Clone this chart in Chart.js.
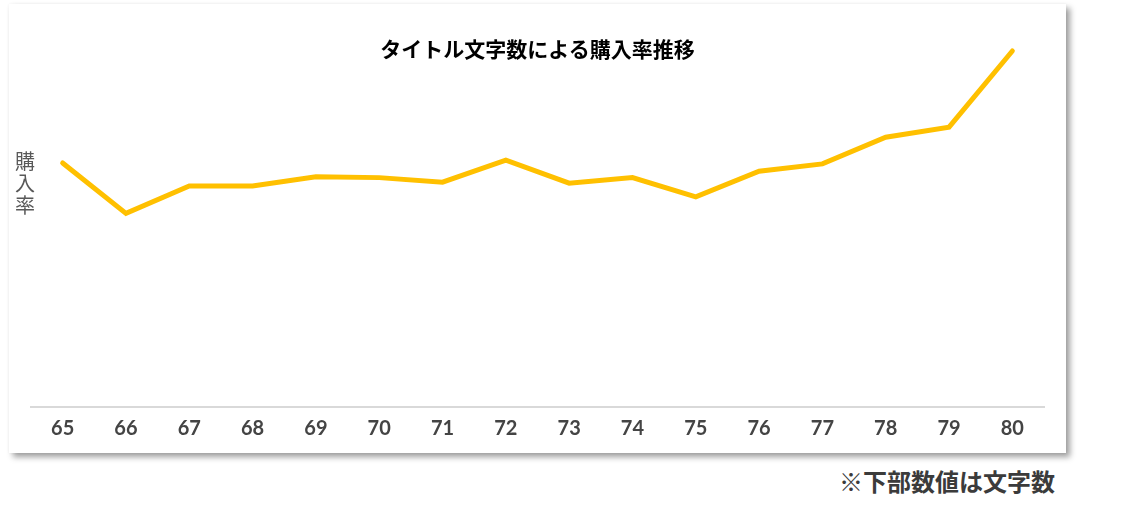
<!DOCTYPE html>
<html lang="ja">
<head>
<meta charset="utf-8">
<title>タイトル文字数による購入率推移</title>
<script src="https://cdn.jsdelivr.net/npm/chart.js@4/dist/chart.umd.min.js"></script>
<style>
  html, body { margin: 0; padding: 0; background: #fff; }
  body { width: 1143px; height: 513px; position: relative; overflow: hidden; }
  .card {
    position: absolute; left: 9px; top: 4px; width: 1057px; height: 449px;
    background: #fff;
    box-shadow: 4px 4px 6px rgba(0, 0, 0, 0.38), 0 0 3px rgba(0, 0, 0, 0.05);
  }
  .card canvas { position: absolute; left: 0; top: 0; }
  .title {
    position: absolute; left: 0; width: 1057px; top: 30px; text-align: center;
    font: bold 21px "Noto Sans CJK JP", sans-serif; color: #000; line-height: 28px;
  }
  .ylabel {
    position: absolute; left: 5px; top: 146px; width: 22px; text-align: center;
    font: 20px "Noto Sans CJK JP", sans-serif; color: #595959; line-height: 22px;
  }
  .note {
    position: absolute; left: 834px; top: 465px; width: 226px; text-align: center;
    font: bold 24px "Noto Sans CJK JP", sans-serif; color: #3b3b3b; line-height: 32px;
  }
</style>
</head>
<body>
<div class="card">
  <canvas id="chart" width="1057" height="449"></canvas>
  <div class="title">タイトル文字数による購入率推移</div>
  <div class="ylabel">購<br>入<br>率</div>
</div>
<div class="note">※下部数値は文字数</div>

<script>
// タイトル文字数
const charCounts = ['65', '66', '67', '68', '69', '70', '71', '72', '73', '74', '75', '76', '77', '78', '79', '80']
// 購入率 (%)
const purchaseRate = [2.66, 2.11, 2.41, 2.41, 2.51, 2.50, 2.45, 2.69, 2.44, 2.50, 2.29, 2.57, 2.65, 2.94, 3.05, 3.88]

const ctx = document.getElementById('chart')

const chart = new Chart(ctx, {
  type: 'line',
  data: {
    labels: charCounts,
    datasets: [{
      label: '購入率',
      data: purchaseRate,
      borderColor: '#FFC000',
      borderWidth: 5,
      borderCapStyle: 'round',
      pointRadius: 0,
      tension: 0,
      fill: false
    }]
  },
  options: {
    responsive: false,
    animation: false,
    layout: {
      padding: { top: 36, left: 22, right: 22, bottom: 2 }
    },
    plugins: {
      legend: { display: false },
      tooltip: { enabled: false }
    },
    scales: {
      x: {
        offset: true,
        grid: { display: false, drawTicks: false },
        border: { display: true, color: '#d9d9d9', width: 2 },
        ticks: {
          color: '#444444',
          padding: 10,
          font: { family: 'Lato', size: 20, weight: 'bold' }
        }
      },
      y: {
        display: false,
        min: 0,
        max: 4
      }
    }
  }
})
</script>
</body>
</html>
